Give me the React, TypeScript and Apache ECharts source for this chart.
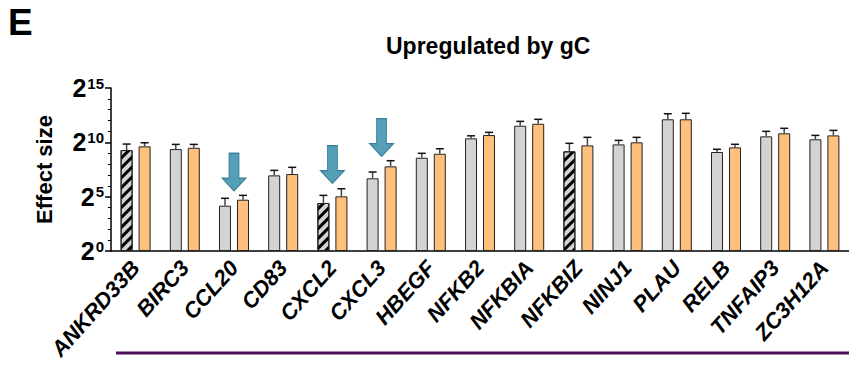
import React, { useEffect, useRef } from "react";
import * as echarts from "echarts";

const categories = ["ANKRD33B", "BIRC3", "CCL20", "CD83", "CXCL2", "CXCL3", "HBEGF", "NFKB2", "NFKBIA", "NFKBIZ", "NINJ1", "PLAU", "RELB", "TNFAIP3", "ZC3H12A"];
// log2(effect size)
const grayValues = [9.29, 9.38, 4.17, 6.96, 4.42, 6.69, 8.58, 10.37, 11.53, 9.17, 9.81, 12.12, 9.11, 10.55, 10.28];
const grayErrTop = [9.84, 9.81, 4.85, 7.42, 5.12, 7.27, 8.99, 10.6, 11.93, 9.91, 10.18, 12.63, 9.36, 11.01, 10.64];
const orangeValues = [9.63, 9.5, 4.72, 7.08, 5.03, 7.79, 8.95, 10.67, 11.71, 9.72, 10.0, 12.12, 9.54, 10.83, 10.64];
const orangeErrTop = [9.96, 9.81, 5.12, 7.7, 5.73, 8.31, 9.41, 10.92, 12.12, 10.46, 10.46, 12.67, 9.82, 11.29, 11.1];
const hatchedGenes = ["ANKRD33B", "CXCL2", "NFKBIZ"];
const arrowGenes = ["CCL20", "CXCL2", "CXCL3"];
const arrowCenters = [7.26, 7.95, 10.44];
const yTicks = [0, 5, 10, 15];

const FONT = "'Liberation Sans', Arial, Helvetica, sans-serif";
const BAR_W = 12;
const BAR_GAP = 6;
const GRAY = "#d3d3d3";
const ORANGE = "#ffbf7d";
const ARROW_PATH = "path://M7,0 L17,0 L17,25 L24,25 L12,38 L0,25 L7,25 Z";

function errSeries(values: number[], tops: number[], offset: number) {
  return {
    type: "custom",
    z: 5,
    silent: true,
    data: values.map((v, i) => [i, v, tops[i]]),
    renderItem: (params: any, api: any) => {
      const i = api.value(0);
      const p0 = api.coord([i, api.value(1)]);
      const p1 = api.coord([i, api.value(2)]);
      const cx = p0[0] + offset;
      return {
        type: "group",
        children: [
          { type: "line", shape: { x1: cx, y1: p0[1], x2: cx, y2: p1[1] }, style: { stroke: "#444", lineWidth: 1.5 } },
          { type: "line", shape: { x1: cx - 4, y1: p1[1], x2: cx + 4, y2: p1[1] }, style: { stroke: "#111", lineWidth: 1.5 } },
        ],
      };
    },
  };
}

export default function App() {
  const ref = useRef<HTMLDivElement>(null);
  useEffect(() => {
    if (!ref.current) return;
    const chart = echarts.init(ref.current, null, { renderer: "svg" });
    const hatchDecal = {
      symbol: "rect",
      symbolSize: 1,
      dashArrayX: [1, 0],
      dashArrayY: [3, 4],
      rotation: -Math.PI / 4,
      color: "#000",
    };
    chart.setOption({
      animation: false,
      backgroundColor: "#fff",
      textStyle: { fontFamily: FONT },
      title: {
        text: "Upregulated by gC",
        left: 381,
        top: 29,
        textStyle: { fontFamily: FONT, fontSize: 23, fontWeight: "bold", color: "#000" },
      },
      graphic: [
        { type: "text", left: 8, top: 4, style: { text: "E", font: `bold 37px ${FONT}`, fill: "#000" } },
        { type: "line", shape: { x1: 116, y1: 353, x2: 849, y2: 353 }, style: { stroke: "#4b0f57", lineWidth: 3 } },
      ],
      grid: { left: 111, right: -3, top: 88, bottom: 119, containLabel: false },
      xAxis: {
        type: "category",
        data: categories,
        axisLine: { lineStyle: { color: "#000", width: 1.5 } },
        axisTick: { alignWithLabel: true, length: 5, lineStyle: { color: "#000", width: 1.5 } },
        axisLabel: {
          interval: 0,
          rotate: 48,
          margin: 13,
          color: "#000",
          fontFamily: FONT,
          fontSize: 22,
          fontWeight: "bold",
          fontStyle: "italic",
        },
      },
      yAxis: {
        type: "value",
        min: 0,
        max: 15,
        interval: 5,
        name: "Effect size",
        nameLocation: "middle",
        nameRotate: 90,
        nameGap: 56,
        nameTextStyle: { fontFamily: FONT, fontSize: 22, fontWeight: "bold", color: "#000" },
        axisLine: { show: true, lineStyle: { color: "#000", width: 1.5 } },
        axisTick: { show: true, length: 6, lineStyle: { color: "#000", width: 1.5 } },
        minorTick: { show: true, splitNumber: 5, length: 3, lineStyle: { color: "#000", width: 1 } },
        splitLine: { show: false },
        axisLabel: {
          margin: 7,
          formatter: (v: number) => (yTicks.includes(v) ? `{b|2}{s|${v}}` : ""),
          rich: {
            b: { fontFamily: FONT, fontSize: 25, fontWeight: "bold", color: "#000" },
            s: { fontFamily: FONT, fontSize: 15, fontWeight: "bold", color: "#000", verticalAlign: "top", padding: [0, 0, 8, 1] },
          },
        },
      },
      series: [
        {
          type: "bar",
          barWidth: BAR_W,
          barGap: `${(BAR_GAP / BAR_W) * 100}%`,
          data: grayValues.map((v, i) =>
            hatchedGenes.includes(categories[i])
              ? { value: v, itemStyle: { color: GRAY, decal: hatchDecal } }
              : v
          ),
          itemStyle: { color: GRAY, borderColor: "#222", borderWidth: 1 },
        },
        {
          type: "bar",
          barWidth: BAR_W,
          data: orangeValues,
          itemStyle: { color: ORANGE, borderColor: "#222", borderWidth: 1 },
        },
        errSeries(grayValues, grayErrTop, -(BAR_W + BAR_GAP) / 2),
        errSeries(orangeValues, orangeErrTop, (BAR_W + BAR_GAP) / 2),
        {
          type: "scatter",
          z: 6,
          silent: true,
          symbol: ARROW_PATH,
          symbolSize: [24, 38],
          symbolKeepAspect: false,
          itemStyle: { color: "#2a88a6", borderColor: "#1c6c86", borderWidth: 1 },
          data: arrowGenes.map((g, k) => [categories.indexOf(g), arrowCenters[k]]),
        },
      ],
    });
    return () => chart.dispose();
  }, []);
  return <div ref={ref} style={{ position: "absolute", left: 0, top: 0, width: 849, height: 370 }} />;
}
